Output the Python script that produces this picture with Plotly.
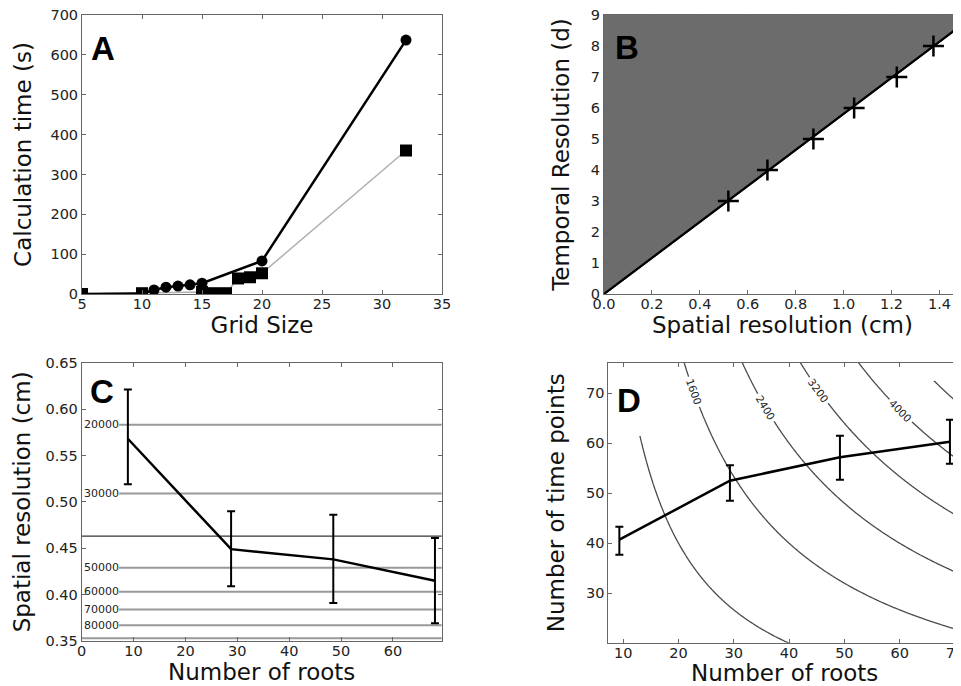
import numpy as np
import plotly.graph_objects as go

# ---------------- Panel A data ----------------
grid_circle = [5, 10, 11, 12, 13, 14, 15, 20, 32]
time_circle = [0, 1, 10, 17, 20, 23, 27, 83, 637]
grid_square = [5, 10, 15, 16, 17, 18, 19, 20, 32]
time_square = [0, 2, 5, 2, 2, 39, 42, 52, 360]

# ---------------- Panel B data ----------------
spatial_pts = [0.519, 0.682, 0.874, 1.044, 1.222, 1.375]
temporal_pts = [3, 4, 5, 6, 7, 8]
boundary_x = [0.0, 1.5]
boundary_y = [0.0, 8.72]
top_y = [9, 9]

# ---------------- Panel C data ----------------
roots_c = [8.9, 28.8, 48.5, 68.1]
spatial_c = [0.568, 0.449, 0.438, 0.415]
spatial_c_hi = [0.621, 0.490, 0.486, 0.461]
spatial_c_lo = [0.519, 0.409, 0.391, 0.369]
level_labels_c = ["20000", "30000", "", "50000", "60000", "70000", "80000", ""]
level_values_c = [0.583, 0.509, 0.463, 0.429, 0.403, 0.384, 0.367, 0.353]

# ---------------- Panel D data ----------------
roots_d = [9.3, 29.3, 49.2, 69.1]
timepts_d = [40.7, 52.5, 57.2, 60.3]
timepts_d_hi = [43.3, 55.6, 61.5, 64.7]
timepts_d_lo = [37.7, 48.5, 52.7, 55.9]
contour_levels_d = [1600, 2400, 3200, 4000]
contour_label_x = [22.8, 35.8, 45.4, 60.2]      # where each level's label sits (roots)
contour_label_angle = [70, 59, 54, 45]
roots_grid = np.arange(7.0, 72.01, 0.25)
time_grid = np.arange(20.0, 76.51, 0.25)
total_grid = np.outer(time_grid, roots_grid)     # number of roots x number of time points
time_grid_800 = time_grid[time_grid <= 61.6]
time_grid_4800 = time_grid[time_grid <= 72.7]

# page has an 8px body margin: figure occupies page pixels 8..961 / 8..686
OFF = 8
W, H = 961 - OFF, 686 - OFF
def fx(p): return (p - OFF) / W
def fy(p): return 1 - (p - OFF) / H

TICKF = dict(family="DejaVu Sans", size=14.5, color="#222")
TITLEF = dict(family="DejaVu Sans", size=23, color="#111")
SP = "#666"

def axis(dom, rng, dtick, title, standoff, tick0=None, fmt=None, anchor=None, tls=0):
    d = dict(domain=dom, range=rng, dtick=dtick, showgrid=False, zeroline=False,
             showline=True, linecolor=SP, linewidth=1, mirror="ticks",
             ticks="inside", ticklen=4, tickcolor=SP, tickfont=TICKF,
             title=dict(text=title, font=TITLEF, standoff=standoff),
             anchor=anchor, automargin=False, ticklabelstandoff=tls,
             ticklabeloverflow="allow")
    if tick0 is not None:
        d["tick0"] = tick0
    if fmt:
        d["tickformat"] = fmt
    return d

fig = go.Figure()

# ---- A ----
fig.add_trace(go.Scatter(x=grid_square, y=time_square, mode="lines+markers",
                         line=dict(color="#b0b0b0", width=1.5),
                         marker=dict(symbol="square", size=12, color="black"),
                         xaxis="x", yaxis="y"))
fig.add_trace(go.Scatter(x=grid_circle, y=time_circle, mode="lines+markers",
                         line=dict(color="black", width=2.5),
                         marker=dict(symbol="circle", size=11, color="black"),
                         xaxis="x", yaxis="y"))

# ---- B ----
fig.add_trace(go.Scatter(x=boundary_x, y=boundary_y, mode="lines",
                         line=dict(color="black", width=2),
                         xaxis="x2", yaxis="y2"))
fig.add_trace(go.Scatter(x=boundary_x, y=top_y, mode="lines", fill="tonexty",
                         fillcolor="#6c6c6c", line=dict(width=0, color="#6c6c6c"),
                         xaxis="x2", yaxis="y2"))
fig.add_trace(go.Scatter(x=boundary_x, y=boundary_y, mode="lines",
                         line=dict(color="black", width=2),
                         xaxis="x2", yaxis="y2"))
fig.add_trace(go.Scatter(x=spatial_pts, y=temporal_pts, mode="markers",
                         marker=dict(symbol="cross-thin", size=15,
                                     line=dict(color="black", width=2.5)),
                         xaxis="x2", yaxis="y2"))

# ---- C ----
fig.add_trace(go.Scatter(x=roots_c, y=spatial_c, mode="lines",
                         line=dict(color="black", width=2.5),
                         error_y=dict(type="data", symmetric=False,
                                      array=[h - v for h, v in zip(spatial_c_hi, spatial_c)],
                                      arrayminus=[v - l for l, v in zip(spatial_c_lo, spatial_c)],
                                      color="black", thickness=2, width=4),
                         xaxis="x3", yaxis="y3"))

# ---- D ----
CL = dict(color="#4a4a4a", width=1.3)
fig.add_trace(go.Contour(x=roots_grid, y=time_grid, z=total_grid,
                         contours=dict(start=contour_levels_d[0], end=contour_levels_d[-1],
                                       size=contour_levels_d[1] - contour_levels_d[0],
                                       coloring="none", showlabels=False),
                         line=CL, showscale=False, hoverinfo="skip", xaxis="x4", yaxis="y4"))
fig.add_trace(go.Contour(x=roots_grid, y=time_grid_800, z=np.outer(time_grid_800, roots_grid),
                         contours=dict(start=800, end=800, size=800, coloring="none"),
                         line=CL, showscale=False, hoverinfo="skip", xaxis="x4", yaxis="y4"))
fig.add_trace(go.Contour(x=roots_grid, y=time_grid_4800, z=np.outer(time_grid_4800, roots_grid),
                         contours=dict(start=4800, end=4800, size=800, coloring="none"),
                         line=CL, showscale=False, hoverinfo="skip", xaxis="x4", yaxis="y4"))
fig.add_trace(go.Scatter(x=roots_d, y=timepts_d, mode="lines",
                         line=dict(color="black", width=2.5),
                         error_y=dict(type="data", symmetric=False,
                                      array=[h - v for h, v in zip(timepts_d_hi, timepts_d)],
                                      arrayminus=[v - l for l, v in zip(timepts_d_lo, timepts_d)],
                                      color="black", thickness=2, width=4),
                         xaxis="x4", yaxis="y4"))

shapes = []
annotations = []
for lab, val in zip(level_labels_c, level_values_c):
    dark = lab == "" and val > 0.4
    x0 = 0.0 if lab == "" else 0.104
    shapes.append(dict(type="line", xref="x3 domain", yref="y3", x0=x0, x1=1,
                       y0=val, y1=val,
                       line=dict(color="#333" if dark else "#999", width=1.2 if dark else 2),
                       layer="below"))
    if lab:
        annotations.append(dict(text=lab, xref="x3 domain", yref="y3", x=0.0, y=val,
                                xanchor="left", yanchor="middle", showarrow=False,
                                font=dict(family="DejaVu Sans", size=11, color="#222"),
                                xshift=0))

for lev, lx, ang in zip(contour_levels_d, contour_label_x, contour_label_angle):
    annotations.append(dict(text=str(lev), xref="x4", yref="y4", x=lx, y=lev / lx,
                            textangle=ang, showarrow=False, bgcolor="white", borderpad=2,
                            font=dict(family="DejaVu Sans", size=10.5, color="#222")))

for letter, xp, yp in [("A", 89, 28), ("B", 613, 27), ("C", 88, 371), ("D", 615, 380)]:
    annotations.append(dict(text="<b>%s</b>" % letter, xref="paper", yref="paper",
                            x=fx(xp), y=fy(yp), xanchor="left", yanchor="top",
                            showarrow=False,
                            font=dict(family="Liberation Sans", size=33, color="black")))

fig.update_layout(
    width=W, height=H, margin=dict(l=0, r=0, t=0, b=0), showlegend=False,
    paper_bgcolor="white", plot_bgcolor="white",
    xaxis=axis([fx(82), fx(442)], [5, 35], 5, "Grid Size", 0, anchor="y", tls=-3),
    yaxis=axis([fy(294), fy(15)], [0, 700], 100, "Calculation time (s)", 12, anchor="x"),
    xaxis2=axis([fx(604), 1.0], [0, 1.49], 0.2, "Spatial resolution (cm)", 0, tick0=0, fmt=".1f", anchor="y2", tls=-3),
    yaxis2=axis([fy(294), fy(15)], [0, 9], 1, "Temporal Resolution (d)", 14, anchor="x2"),
    xaxis3=axis([fx(81.7), fx(441.7)], [0, 69.4], 10, "Number of roots", 0, tick0=0, anchor="y3", tls=-3),
    yaxis3=axis([fy(641), fy(362.7)], [0.35, 0.65], 0.05, "Spatial resolution (cm)", 8, fmt=".2f", anchor="x3"),
    xaxis4=axis([fx(608.3), 1.0], [7.3, 71.1], 10, "Number of roots", 0, tick0=10, anchor="y4", tls=-3),
    yaxis4=axis([fy(642.7), fy(362.7)], [20.1, 76.1], 10, "Number of time points", 14, tick0=30, anchor="x4"),
    shapes=shapes, annotations=annotations,
)

fig.write_html("out.html")
